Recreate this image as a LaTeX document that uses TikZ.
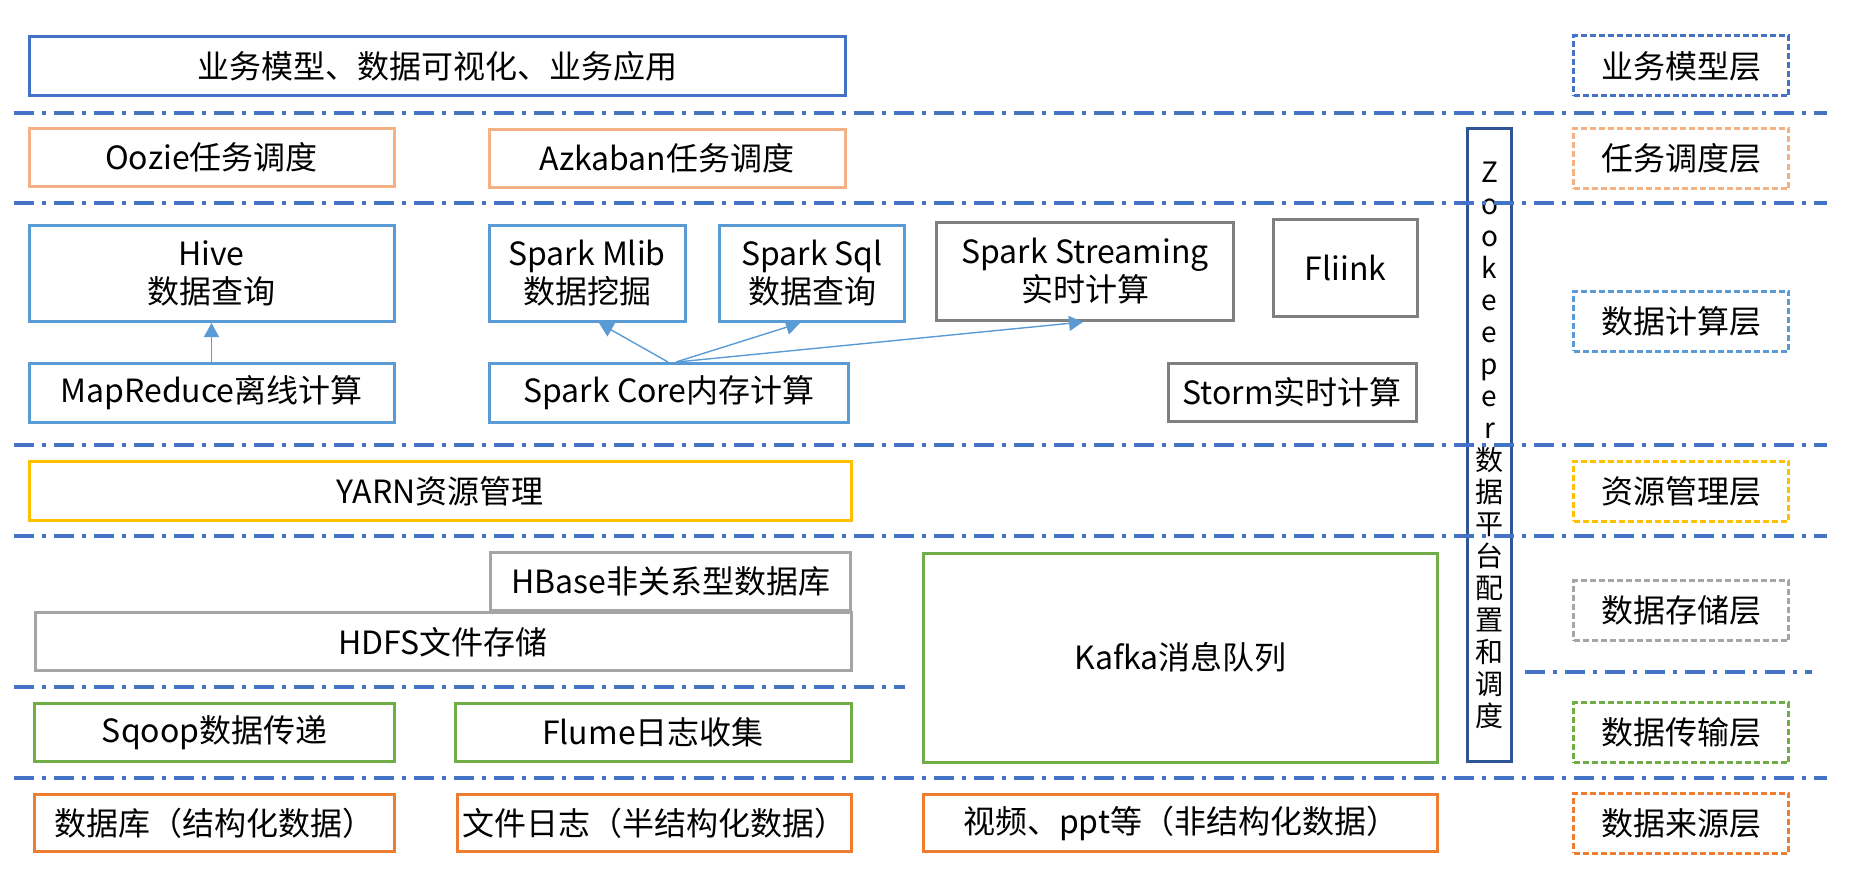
\documentclass[tikz,border=0pt]{standalone}
\usepackage{fontspec}
\setmainfont{Noto Sans CJK SC}
\usepackage{tikz}
\usetikzlibrary{arrows.meta}

\definecolor{ywblue}{HTML}{4472C4}
\definecolor{jsblue}{HTML}{5B9BD5}
\definecolor{ddorange}{HTML}{F4B183}
\definecolor{ssgray}{HTML}{7F7F7F}
\definecolor{zyyellow}{HTML}{FFC000}
\definecolor{ccgray}{HTML}{A5A5A5}
\definecolor{csgreen}{HTML}{70AD47}
\definecolor{lyorange}{HTML}{ED7D31}
\definecolor{zkblue}{HTML}{2F5597}

\begin{document}
\begin{tikzpicture}[
      x=1pt, y=-1pt,
      >={Triangle[length=14pt,width=15pt]},
      every node/.style={font=\fontsize{32}{38}\selectfont, inner sep=0pt, align=center},
      box/.style={draw=#1, line width=3pt},
      layerbox/.style={draw=#1, line width=3pt, dash pattern=on 6pt off 3pt,
        minimum width=215pt, minimum height=60pt},
      sepline/.style={ywblue, line width=3.2pt, dash pattern=on 20pt off 8pt on 4pt off 8pt},
      link/.style={->, jsblue, line width=1.4pt}
  ]
      \useasboundingbox (0,0) rectangle (1850,880);

      % 业务模型
      \node[box=ywblue, minimum width=816pt, minimum height=59pt] (app) at (437,66.5) {业务模型、数据可视化、业务应用};

      % 任务调度
      \node[box=ddorange, minimum width=365pt, minimum height=58pt] (oozie) at (211.5,157.5) {Oozie任务调度};
      \node[box=ddorange, minimum width=356pt, minimum height=58pt] (azk) at (667,158.5) {Azkaban任务调度};

      % 数据计算
      \node[box=jsblue, minimum width=365pt, minimum height=96pt] (hive) at (211.5,273.5) {Hive\\数据查询};
      \node[box=jsblue, minimum width=196pt, minimum height=96pt] (mlib) at (587,273.5) {Spark Mlib\\数据挖掘};
      \node[box=jsblue, minimum width=185pt, minimum height=96pt] (sql) at (812,273.5) {Spark Sql\\数据查询};
      \node[box=ssgray, minimum width=297pt, minimum height=98pt] (strm) at (1085,271.5) {Spark Streaming\\实时计算};
      \node[box=ssgray, minimum width=144pt, minimum height=97pt] (flink) at (1345.5,268) {Fliink};
      \node[box=jsblue, minimum width=365pt, minimum height=59pt] (mapr) at (211.5,393) {MapReduce离线计算};
      \node[box=jsblue, minimum width=359pt, minimum height=59pt] (core) at (669,393) {Spark Core内存计算};
      \node[box=ssgray, minimum width=248pt, minimum height=58pt] (storm) at (1292,392.5) {Storm实时计算};

      % 资源管理
      \node[box=zyyellow, minimum width=822pt, minimum height=59pt] (yarn) at (440,491) {YARN资源管理};

      % 数据存储
      \node[box=ccgray, minimum width=360pt, minimum height=58pt] (hbase) at (670.7,581.3) {HBase非关系型数据库};
      \node[box=ccgray, minimum width=816pt, minimum height=58pt] (hdfs) at (443,641.8) {HDFS文件存储};
      \node[box=csgreen, minimum width=514pt, minimum height=209pt] (kafka) at (1180.7,657.5) {Kafka消息队列};

      % 数据传输
      \node[box=csgreen, minimum width=360pt, minimum height=58pt] (sqoop) at (214.7,732.5) {Sqoop数据传递};
      \node[box=csgreen, minimum width=396pt, minimum height=58pt] (flume) at (653,732.5) {Flume日志收集};

      % 数据来源
      \node[box=lyorange, minimum width=360pt, minimum height=57pt] (db) at (214.7,823) {数据库（结构化数据）};
      \node[box=lyorange, minimum width=394pt, minimum height=57pt] (log) at (654,823) {文件日志（半结构化数据）};
      \node[box=lyorange, minimum width=514pt, minimum height=57pt] (video) at (1180.7,823) {视频、ppt等（非结构化数据）};

      % Zookeeper 竖条
      \node[box=zkblue, minimum width=44pt, minimum height=633pt, font=\fontsize{28}{32}\selectfont] (zk) at (1489.5,445)
          {Z\\o\\o\\k\\e\\e\\p\\e\\r\\数\\据\\平\\台\\配\\置\\和\\调\\度};

      % 右侧层名
      \foreach \nm/\y/\c/\t in {lyapp/66/ywblue/业务模型层, lytask/158.5/ddorange/任务调度层,
          lycalc/321/jsblue/数据计算层, lyres/491/zyyellow/资源管理层,
          lystore/610.5/ccgray/数据存储层, lytrans/732.5/csgreen/数据传输层,
          lysrc/823/lyorange/数据来源层} {
          \node[layerbox=\c] (\nm) at (1681,\y) {\t};
      }

      % 分隔线
      \foreach \y in {113, 203, 445, 536, 778} {
          \draw[sepline] (14,\y) -- (1827,\y);
      }
      \draw[sepline] (14,687) -- (905,687);
      \draw[sepline] (1525,672) -- (1812,672);

      % 箭头
      \draw[link] (mapr) -- (hive);
      \draw[link] ([xshift=-1pt]core.north) -- ([xshift=12pt]mlib.south);
      \draw[link] ([xshift=7pt]core.north) -- ([xshift=-12pt]sql.south);
      \draw[link] ([xshift=8pt]core.north) -- ([xshift=-2pt]strm.south);

  \end{tikzpicture}
\end{document}
